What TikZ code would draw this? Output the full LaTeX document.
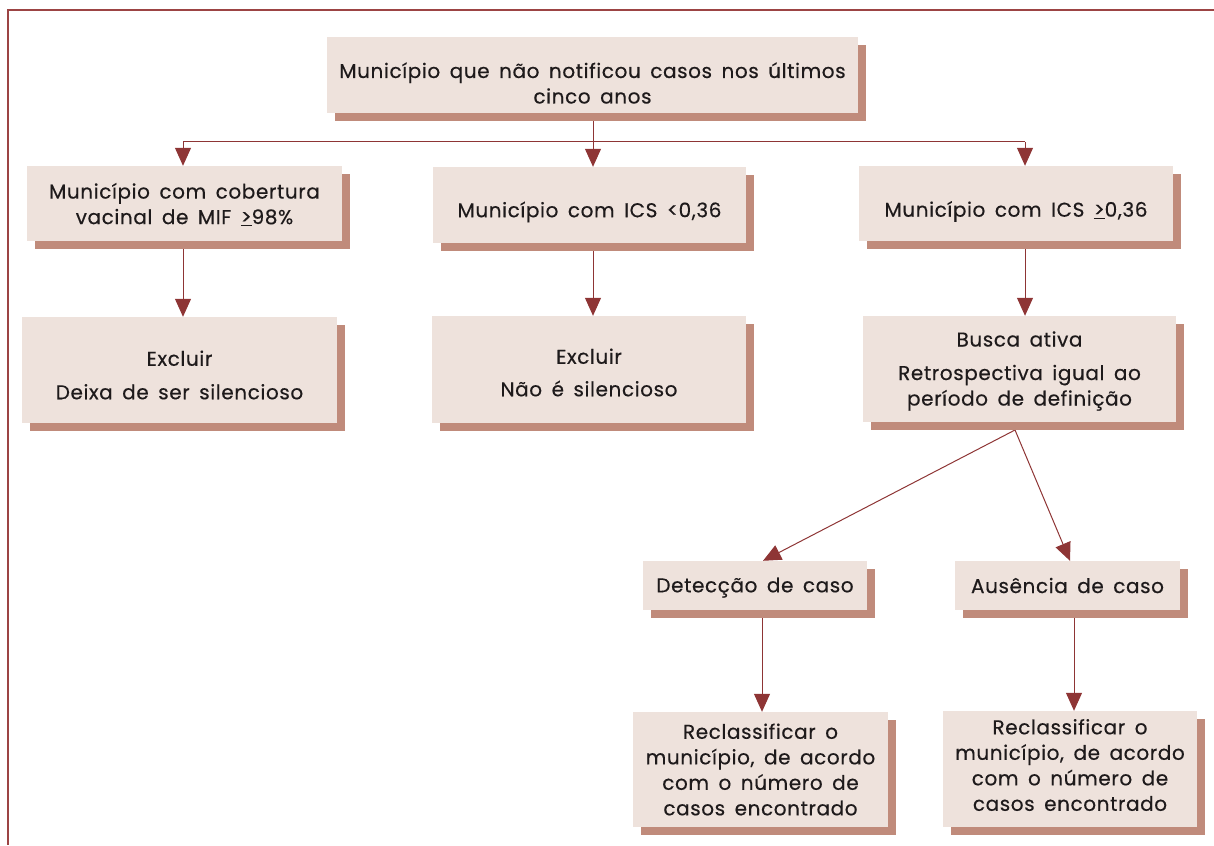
\documentclass[tikz,border=0pt]{standalone}
\usepackage{fontspec}
\setmainfont[LetterSpace=3,WordSpace=1.6,FakeBold=0.4]{Poppins}
\usetikzlibrary{arrows.meta,shadows,calc,backgrounds}
\definecolor{boxfill}{HTML}{EEE2DC}
\definecolor{shadowc}{HTML}{C08B7B}
\definecolor{linec}{HTML}{8E3535}
\definecolor{framec}{HTML}{9C4444}
\definecolor{textc}{HTML}{1E1A1B}
\begin{document}
\begin{tikzpicture}[x=1pt,y=-1pt,
  box/.style={fill=boxfill, inner sep=0pt,
    drop shadow={shadow xshift=8pt, shadow yshift=-8pt, fill=shadowc, opacity=1}},
  txt/.style={inner sep=0pt, align=center, text=textc,
    font=\fontsize{20}{25.5}\selectfont},
  conn/.style={draw=linec, line width=1pt},
  arr/.style={conn, -{Triangle[width=16pt,length=18pt]}, arrows={[fill=linec]}}]
\useasboundingbox (0,0) rectangle (1214,845);
\draw[framec, line width=2.5pt] (1214,10) -- (8,10) -- (8,845);

\node[box, minimum width=531pt, minimum height=76pt] (top) at (592.5,75) {};
\node[txt] (topt) at ([yshift=-8pt]top.center)
  {Município que não notificou casos nos últimos\\cinco anos};
\node[box, minimum width=315pt, minimum height=75pt] (L1) at (184.5,203.5) {};
\node[txt] (L1t) at ([yshift=-1pt]L1.center)
  {Município com cobertura\\vacinal de MIF \underline{>}98\%};
\node[box, minimum width=313pt, minimum height=76pt] (M1) at (589.5,205) {};
\node[txt] (M1t) at ([yshift=-7pt]M1.center) {Município com ICS <0,36};
\node[box, minimum width=314pt, minimum height=75pt] (R1) at (1016,203.5) {};
\node[txt] (R1t) at ([yshift=-8pt]R1.center) {Município com ICS \underline{>}0,36};
\node[box, minimum width=315pt, minimum height=106pt] (L2) at (179.5,370) {};
\node[txt] (L2t) at ([yshift=-5pt]L2.center) {Excluir\\[8pt]Deixa de ser silencioso};
\node[box, minimum width=314pt, minimum height=107pt] (M2) at (589,369.5) {};
\node[txt] (M2t) at ([yshift=-3pt]M2.center) {Excluir\\[7pt]Não é silencioso};
\node[box, minimum width=313pt, minimum height=106pt] (R2) at (1019.5,369) {};
\node[txt] (R2t) at ([yshift=-2pt]R2.center)
  {Busca ativa\\[8pt]Retrospectiva igual ao\\período de definição};
\node[box, minimum width=224pt, minimum height=49pt] (D) at (755,585.5) {};
\node[txt] (Dt) at ([yshift=-2pt]D.center) {Detecção de caso};
\node[box, minimum width=225pt, minimum height=49pt] (A) at (1067.5,585.5) {};
\node[txt] (At) at (A.center) {Ausência de caso};
\node[box, minimum width=255pt, minimum height=115pt] (RL) at (760.5,769.5) {};
\node[txt] (RLt) at (RL.center)
  {Reclassificar o\\município, de acordo\\com o número de\\casos encontrado};
\node[box, minimum width=254pt, minimum height=116pt] (RR) at (1070,769) {};
\node[txt] (RRt) at ([yshift=4pt]RR.center)
  {Reclassificar o\\município, de acordo\\com o número de\\casos encontrado};

\begin{pgfonlayer}{background}
\coordinate (bar) at (593,142);
\draw[conn] (top.south -| bar) -- (bar);
\draw[conn] (bar -| 183,0) -- (bar -| 1025,0);
\draw[arr] (bar -| 183,0) -- (L1.north -| 183,0);
\draw[arr] (bar) -- (M1.north -| bar);
\draw[arr] (bar -| 1025,0) -- (R1.north -| 1025,0);
\draw[arr] (L1.south -| 183,0) -- (L2.north -| 183,0);
\draw[arr] (M1.south -| bar) -- (M2.north -| bar);
\draw[arr] (R1.south -| 1025,0) -- (R2.north -| 1025,0);
\coordinate (split) at (1015,430);
\draw[arr] (split) -- ($(D.north)+(8,0)$);
\draw[arr] (split) -- ($(A.north)+(2.5,0)$);
\draw[arr] (D.south -| 762,0) -- (RL.north -| 762,0);
\draw[arr] (A.south -| 1074,0) -- (RR.north -| 1074,0);
\end{pgfonlayer}
\end{tikzpicture}
\end{document}
